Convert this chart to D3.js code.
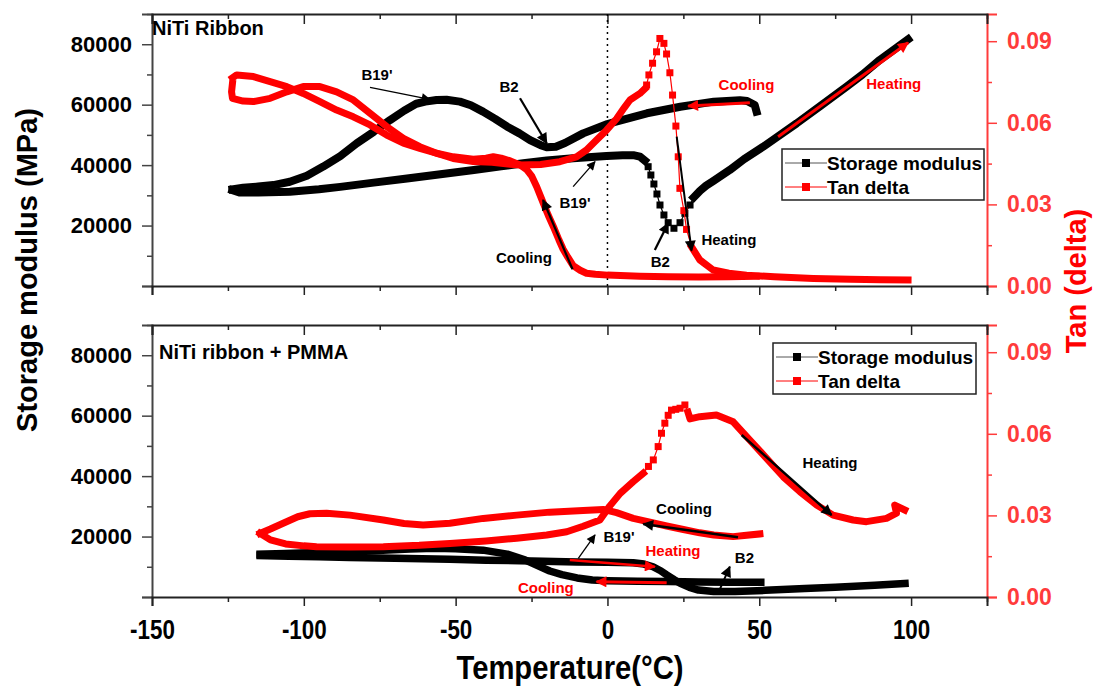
<!DOCTYPE html>
<html><head><meta charset="utf-8">
<script src="https://cdn.jsdelivr.net/npm/d3@7"></script>
<style>
body{margin:0;background:#fff}
text{font-family:"Liberation Sans",Arial,Helvetica,sans-serif;font-weight:bold}
</style>
</head><body>
<svg id="chart" width="1094" height="690"></svg>
<script>
// ---------------- DATA ----------------
// Axis ticks
const xMajorTicks = [-150, -100, -50, 0, 50, 100];
const xMinorTicks = [-125, -75, -25, 25, 75, 125];
const modulusMajorTicks = [0, 20000, 40000, 60000, 80000];
const modulusMinorTicks = [10000, 30000, 50000, 70000, 90000];
const tanMajorTicks = [0, 0.03, 0.06, 0.09];
const tanMinorTicks = [0.015, 0.045, 0.075];
const legendLabels = ["Storage modulus", "Tan delta"];
const panelTitles = ["NiTi Ribbon", "NiTi ribbon + PMMA"];

// ---- Top panel: NiTi Ribbon ----  [Temperature °C, value]
const topModulusCooling = [[49.1,57700],[48.5,59900],[46,61200],[43.6,61500],[35,61000],[24,59300],[13,57150],[5,55000],[0,53600],[-8,50500],[-14,47300],[-17,46100],[-20,45900],[-22,46600],[-25.5,48300],[-29,50500],[-33,52700],[-37,55300],[-41,57700],[-45,59800],[-48.6,61000],[-53,61600],[-56.3,61550],[-60,61000],[-63,60300],[-67,58000],[-71.6,54900],[-77,51000],[-82.6,47200],[-88,43000],[-93.6,39500],[-99,36500],[-104.6,34500],[-110,33400],[-115,32900],[-120,32500],[-123.5,32000]];
const topModulusHeatingA = [[-123.5,31700],[-121,30900],[-115,30900],[-104.6,31200],[-95,32000],[-88,32800],[-77,34200],[-66,35600],[-55,37000],[-44,38400],[-35,39600],[-27.7,40600],[-20,41500],[-11.3,42300],[-0.3,43000],[5,43300],[8.5,43300],[10.7,42800],[12.3,41500]];
const topModulusHeatingDrop = [[13.4,39480],[14.3,36730],[15.3,33750],[16.3,30440],[17.3,26800],[18.6,23500],[20,20950],[21.9,19100],[23.9,20950],[25.5,24050],[27.2,26800]];
const topModulusHeatingB = [[28.4,29300],[30.5,31500],[32.5,33200],[34.8,34700],[40.3,38400],[45,42000],[51.3,46100],[56,49400],[62.3,53800],[70,59500],[78.7,65950],[84,70000],[89.7,74800],[95,78700],[99,81600]];
const topTanCooling = [[49,0.0036],[40,0.0034],[30,0.0033],[20,0.0034],[10.7,0.0036],[0,0.004],[-4,0.0043],[-6.9,0.0047],[-9,0.0058],[-11.3,0.0075],[-13,0.0105],[-14.6,0.0135],[-16,0.017],[-17.8,0.0218],[-19.5,0.026],[-21.1,0.0304],[-23.3,0.0365],[-25,0.0405],[-26.6,0.0428],[-28.8,0.0445],[-32,0.046],[-35,0.047],[-37.6,0.0475],[-40,0.047],[-44.2,0.0466],[-50.8,0.0475],[-56.3,0.0488],[-61.8,0.0506],[-67.2,0.0525],[-72.7,0.0555],[-78.2,0.0592],[-83.7,0.0622],[-89.2,0.0647],[-94.7,0.0678],[-100.2,0.0708],[-105.6,0.0733],[-111.1,0.0751],[-116.6,0.077],[-122.1,0.0776],[-123.5,0.0765]];
const topTanHeatingA = [[-123.5,0.0745],[-123.8,0.0714],[-123.5,0.069],[-120,0.068],[-116.6,0.0678],[-111.1,0.069],[-105.6,0.0714],[-100.2,0.0733],[-94.7,0.0733],[-89.2,0.0714],[-83.7,0.0684],[-78.2,0.0635],[-72.7,0.0586],[-67.2,0.0543],[-61.8,0.0512],[-56.3,0.0488],[-50.8,0.0469],[-44.2,0.0458],[-38,0.0455],[-32,0.0448],[-28.8,0.0445],[-22,0.0447],[-15.7,0.0457],[-10.2,0.0475],[-6.9,0.05],[-3.6,0.0537],[-0.3,0.0573],[3,0.0615],[5.5,0.0655],[7.4,0.0684],[10.7,0.0708],[12.3,0.0725]];
const topTanHeatingPeak = [[12.9,0.0739],[13.65,0.0776],[14.86,0.0819],[16.17,0.0861],[17.27,0.091],[18.59,0.0892],[19.47,0.0853],[20.56,0.0784],[21.44,0.0702],[22.54,0.0588],[23.31,0.0475],[23.86,0.0359],[25.17,0.0277],[26.05,0.0208]];
const topTanHeatingB = [[27.7,0.0144],[30.4,0.0096],[34.8,0.0059],[40,0.0047],[45.8,0.004],[55,0.0034],[67.8,0.0028],[80,0.0025],[90,0.0023],[99,0.0022]];

// ---- Bottom panel: NiTi ribbon + PMMA ----
const botModulusHeating = [[-114.4,13700],[-105,13500],[-95,13300],[-85,13100],[-70,12800],[-52,12500],[-40,12200],[-25,11900],[-10,11600],[0,11500],[8.5,11300],[12,10900],[15,10000],[17.5,8700],[19.5,7300],[22,5700],[24,4500],[27,3200],[30,2300],[35,1800],[42,1800],[52,2200],[65,2800],[75,3200],[88,3900],[98,4500]];
const botModulusCooling = [[50.5,4900],[40,4900],[30,5000],[20,5100],[10,5200],[0,5400],[-5,5600],[-10,6300],[-15,7400],[-19,8600],[-23,10400],[-27,12200],[-33,14200],[-41,15500],[-50,16000],[-57,16100],[-65,15900],[-74,15500],[-85,15100],[-96,14700],[-106,14400],[-114.4,14200]];
const botTanHeatingA = [[-114.4,0.0234],[-111,0.021],[-106,0.0195],[-100,0.0188],[-95.8,0.0185],[-85,0.0184],[-73.8,0.0185],[-62,0.019],[-51.9,0.0197],[-40,0.0206],[-29.9,0.0216],[-20,0.0228],[-13.4,0.024],[-8,0.026],[-2.5,0.0283],[0.8,0.0335],[4.2,0.0381],[8.5,0.0424],[11.8,0.0455]];
const botTanHeatingPeak = [[13.5,0.048],[15.1,0.0504],[16.7,0.0553],[17.8,0.0602],[18.9,0.0639],[20,0.0668],[21.1,0.0687],[22.5,0.069],[23.9,0.0694],[25.5,0.0706]];
const botTanHeatingB = [[26.5,0.068],[27.2,0.0655],[30.4,0.0663],[35.9,0.0669],[41.4,0.0644],[46.9,0.0577],[52.4,0.051],[57.9,0.0442],[63.4,0.0387],[68.9,0.0338],[74.3,0.0301],[80.9,0.0283],[85.3,0.0277],[91.9,0.0289],[95.2,0.0308],[94.6,0.0338],[97.9,0.032]];
const botTanCooling = [[50.2,0.0232],[45,0.0226],[41.4,0.0222],[35,0.0228],[30.4,0.0236],[25,0.0248],[19.5,0.0261],[14,0.0275],[8.5,0.0289],[3,0.031],[-1.4,0.0322],[-8,0.0318],[-19,0.0312],[-29.9,0.0301],[-40.9,0.0289],[-51.9,0.0271],[-60.7,0.0265],[-67,0.027],[-73.8,0.0283],[-84.8,0.0301],[-92.5,0.0308],[-98,0.0306],[-102,0.0295],[-106.8,0.0271],[-111,0.025],[-114.4,0.0234]];

// ---------------- LAYOUT ----------------
const svg = d3.select("#chart");
const BLACK = "#000", RED = "#ff0000", AXRED = "#ff3b3b";
const x = d3.scaleLinear().domain([-150, 125]).range([152, 987]);
const panels = [
  {top: 14, bottom: 286, showXLabels: false},
  {top: 325, bottom: 597, showXLabels: true}
];
panels.forEach(p => {
  p.yL = d3.scaleLinear().domain([0, 90000]).range([p.bottom, p.top]);
  p.yR = d3.scaleLinear().domain([0, 0.1]).range([p.bottom, p.top]);
});

// arrow heads
const defs = svg.append("defs");
function arrowHead(id, color, len, wid) {
  defs.append("marker").attr("id", id).attr("viewBox", "0 0 10 10")
    .attr("refX", 9).attr("refY", 5).attr("markerUnits", "userSpaceOnUse")
    .attr("markerWidth", len).attr("markerHeight", wid).attr("orient", "auto")
    .append("path").attr("d", "M0,0 L10,5 L0,10 z").attr("fill", color);
}
arrowHead("hkS", BLACK, 12, 9);
arrowHead("hkB", BLACK, 14, 11);
arrowHead("hrB", RED, 15, 11);

function styleAxis(g, color) {
  g.select(".domain").attr("stroke", color).attr("stroke-width", 2);
  g.selectAll(".tick line").attr("stroke", color).attr("stroke-width", 1.5);
}
const FONT = '"Liberation Sans",Arial,sans-serif';

panels.forEach((p, i) => {
  const g = svg.append("g");
  // left axis
  const la = g.append("g").attr("transform", `translate(${x.range()[0]},0)`)
    .call(d3.axisLeft(p.yL).tickValues(modulusMajorTicks).tickSize(10).tickPadding(10)
      .tickFormat(d => d === 0 ? "" : String(d)));
  styleAxis(la, "#444");
  la.selectAll("text").attr("font-size", 22).attr("fill", "#000")
    .style("font-family", FONT).style("font-weight", "bold");
  const lm = g.append("g").attr("transform", `translate(${x.range()[0]},0)`)
    .call(d3.axisLeft(p.yL).tickValues(modulusMinorTicks).tickSize(5).tickFormat(""));
  lm.select(".domain").remove();
  lm.selectAll(".tick line").attr("stroke", "#444").attr("stroke-width", 1.5);

  // right axis
  const ra = g.append("g").attr("transform", `translate(${x.range()[1]},0)`)
    .call(d3.axisRight(p.yR).tickValues(tanMajorTicks).tickSize(10).tickPadding(10)
      .tickFormat(d3.format(".2f")));
  styleAxis(ra, AXRED);
  ra.selectAll("text").attr("font-size", 23).attr("fill", AXRED)
    .style("font-family", FONT).style("font-weight", "bold");
  const rm = g.append("g").attr("transform", `translate(${x.range()[1]},0)`)
    .call(d3.axisRight(p.yR).tickValues(tanMinorTicks).tickSize(5).tickFormat(""));
  rm.select(".domain").remove();
  rm.selectAll(".tick line").attr("stroke", AXRED).attr("stroke-width", 1.5);

  // bottom axis (outward)
  const ba = g.append("g").attr("transform", `translate(0,${p.bottom})`)
    .call(d3.axisBottom(x).tickValues(xMajorTicks).tickSize(9).tickPadding(13)
      .tickFormat(p.showXLabels ? (d => String(d)) : ""));
  styleAxis(ba, "#222");
  ba.selectAll("text").attr("font-size", 28).attr("fill", "#000")
    .attr("transform", "scale(0.8,1)")
    .style("font-family", FONT).style("font-weight", "bold");
  const bm = g.append("g").attr("transform", `translate(0,${p.bottom})`)
    .call(d3.axisBottom(x).tickValues(xMinorTicks).tickSize(5).tickFormat(""));
  bm.select(".domain").remove();
  bm.selectAll(".tick line").attr("stroke", "#222").attr("stroke-width", 1.5);

  // top axis (inward ticks)
  const ta = g.append("g").attr("transform", `translate(0,${p.top})`)
    .call(d3.axisBottom(x).tickValues(xMajorTicks).tickSize(10).tickFormat(""));
  styleAxis(ta, "#222");
  const tm = g.append("g").attr("transform", `translate(0,${p.top})`)
    .call(d3.axisBottom(x).tickValues(xMinorTicks).tickSize(5).tickFormat(""));
  tm.select(".domain").remove();
  tm.selectAll(".tick line").attr("stroke", "#222").attr("stroke-width", 1.5);
});

// dotted line at 0 °C in the top panel
svg.append("line").attr("x1", x(0)).attr("x2", x(0))
  .attr("y1", panels[0].top).attr("y2", panels[0].bottom)
  .attr("stroke", "#000").attr("stroke-width", 1.5).attr("stroke-dasharray", "2,4");

// ---------------- SERIES ----------------
function drawSeries(scale, parts, color, width) {
  const g = svg.append("g");
  const line = d3.line().x(d => x(d[0])).y(d => scale(d[1]));
  const all = [].concat(...parts.map(p => p.pts));
  g.append("path").attr("d", line(all)).attr("fill", "none")
    .attr("stroke", color).attr("stroke-width", 1.2);
  parts.forEach(p => {
    if (p.dense) {
      g.append("path").attr("d", line(p.pts)).attr("fill", "none")
        .attr("stroke", color).attr("stroke-width", width)
        .attr("stroke-linejoin", "round").attr("stroke-linecap", "square");
    } else {
      g.selectAll(null).data(p.pts).enter().append("rect")
        .attr("x", d => x(d[0]) - 3.5).attr("y", d => scale(d[1]) - 3.5)
        .attr("width", 7).attr("height", 7).attr("fill", color);
    }
  });
}
const P0 = panels[0], P1 = panels[1];
drawSeries(P0.yL, [{pts: topModulusCooling, dense: true}], BLACK, 8);
drawSeries(P0.yL, [{pts: topModulusHeatingA, dense: true}, {pts: topModulusHeatingDrop, dense: false}, {pts: topModulusHeatingB, dense: true}], BLACK, 8);
drawSeries(P0.yR, [{pts: topTanCooling, dense: true}], RED, 7);
drawSeries(P0.yR, [{pts: topTanHeatingA, dense: true}, {pts: topTanHeatingPeak, dense: false}, {pts: topTanHeatingB, dense: true}], RED, 7);

drawSeries(P1.yL, [{pts: botModulusCooling, dense: true}], BLACK, 7.5);
drawSeries(P1.yL, [{pts: botModulusHeating, dense: true}], BLACK, 7.5);
drawSeries(P1.yR, [{pts: botTanCooling, dense: true}], RED, 7);
drawSeries(P1.yR, [{pts: botTanHeatingA, dense: true}, {pts: botTanHeatingPeak, dense: false}, {pts: botTanHeatingB, dense: true}], RED, 7);

// ---------------- ANNOTATIONS ----------------
function label(p, t, e, txt, color, size, anchor) {
  svg.append("text").attr("x", x(t)).attr("y", p.yL(e)).text(txt)
    .attr("fill", color).attr("font-size", size || 15).attr("text-anchor", anchor || "middle");
}
function arrow(p, t1, e1, t2, e2, color, w, head) {
  svg.append("line").attr("x1", x(t1)).attr("y1", p.yL(e1)).attr("x2", x(t2)).attr("y2", p.yL(e2))
    .attr("stroke", color).attr("stroke-width", w).attr("marker-end", `url(#${head})`);
}
// top panel
label(P0, -75.9, 68170, "B19'", BLACK);
arrow(P0, -78.2, 65750, -58.5, 61780, BLACK, 1.3, "hkS");
label(P0, -32.4, 64300, "B2", BLACK);
arrow(P0, -28.8, 62110, -20.0, 47220, BLACK, 2.2, "hkB");
label(P0, -10.7, 25810, "B19'", BLACK);
arrow(P0, -11.3, 32860, -4.1, 41130, BLACK, 1.3, "hkS");
label(P0, -27.5, 7610, "Cooling", BLACK);
arrow(P0, -11.5, 5530, -21.2, 28460, BLACK, 2.2, "hkB");
label(P0, 45.8, 64860, "Cooling", RED);
arrow(P0, 46.9, 60650, 26.6, 59560, RED, 3, "hrB");
label(P0, 94.3, 65090, "Heating", RED);
arrow(P0, 56.2, 49400, 99, 80510, RED, 3, "hrB");
label(P0, 40, 13570, "Heating", BLACK);
arrow(P0, 22.8, 49400, 27.7, 11680, BLACK, 2, "hkB");
label(P0, 17.4, 6390, "B2", BLACK);
arrow(P0, 15.6, 11910, 20, 20750, BLACK, 2.2, "hkB");
// bottom panel
label(P1, 73.3, 42790, "Heating", BLACK);
arrow(P1, 44.2, 53610, 73.8, 27130, BLACK, 2.5, "hkB");
label(P1, 25.2, 27470, "Cooling", BLACK);
arrow(P1, 43, 19750, 11.8, 24160, BLACK, 2.5, "hkB");
label(P1, 3.8, 18300, "B19'", BLACK);
arrow(P1, -9.6, 12810, -4.1, 20520, BLACK, 1.3, "hkS");
label(P1, 21.6, 13570, "Heating", RED);
arrow(P1, -12.4, 12240, 15.6, 10030, RED, 2.5, "hrB");
label(P1, 45.1, 11250, "B2", BLACK);
arrow(P1, 37, 2550, 40.3, 10030, BLACK, 2, "hkB");
label(P1, -20.3, 1420, "Cooling", RED);
arrow(P1, 19.5, 4730, -3.6, 5060, RED, 3, "hrB");

// panel titles
svg.append("text").attr("x", 152).attr("y", 35).text(panelTitles[0]).attr("font-size", 20).attr("fill", "#000");
svg.append("text").attr("x", 159).attr("y", 359).text(panelTitles[1]).attr("font-size", 20).attr("fill", "#000");

// ---------------- LEGENDS ----------------
function legend(x0, y0, w, h) {
  const g = svg.append("g").attr("transform", `translate(${x0},${y0})`);
  g.append("rect").attr("width", w).attr("height", h).attr("fill", "#fff")
    .attr("stroke", "#222").attr("stroke-width", 1.5);
  [BLACK, RED].forEach((c, i) => {
    const yy = 14 + i * 24;
    g.append("line").attr("x1", 3).attr("x2", 45).attr("y1", yy).attr("y2", yy)
      .attr("stroke", i === 0 ? "#555" : RED).attr("stroke-width", 1);
    g.append("rect").attr("x", 20).attr("y", yy - 4).attr("width", 8).attr("height", 8).attr("fill", c);
    g.append("text").attr("x", 45).attr("y", yy + 7).text(legendLabels[i])
      .attr("font-size", 19).attr("fill", "#000");
  });
}
legend(782, 149, 202, 51);
legend(773, 343, 203, 51);

// ---------------- AXIS TITLES ----------------
svg.append("text").attr("transform", "translate(37,270) rotate(-90)").attr("text-anchor", "middle")
  .text("Storage modulus (MPa)").attr("font-size", 29).attr("fill", "#000");
svg.append("text").attr("transform", "translate(1086,281) rotate(-90)").attr("text-anchor", "middle")
  .text("Tan (delta)").attr("font-size", 29).attr("fill", RED);
svg.append("text").attr("transform", "translate(570,679) scale(0.86,1)").attr("text-anchor", "middle")
  .text("Temperature(°C)").attr("font-size", 34).attr("fill", "#000");
</script>
</body></html>
